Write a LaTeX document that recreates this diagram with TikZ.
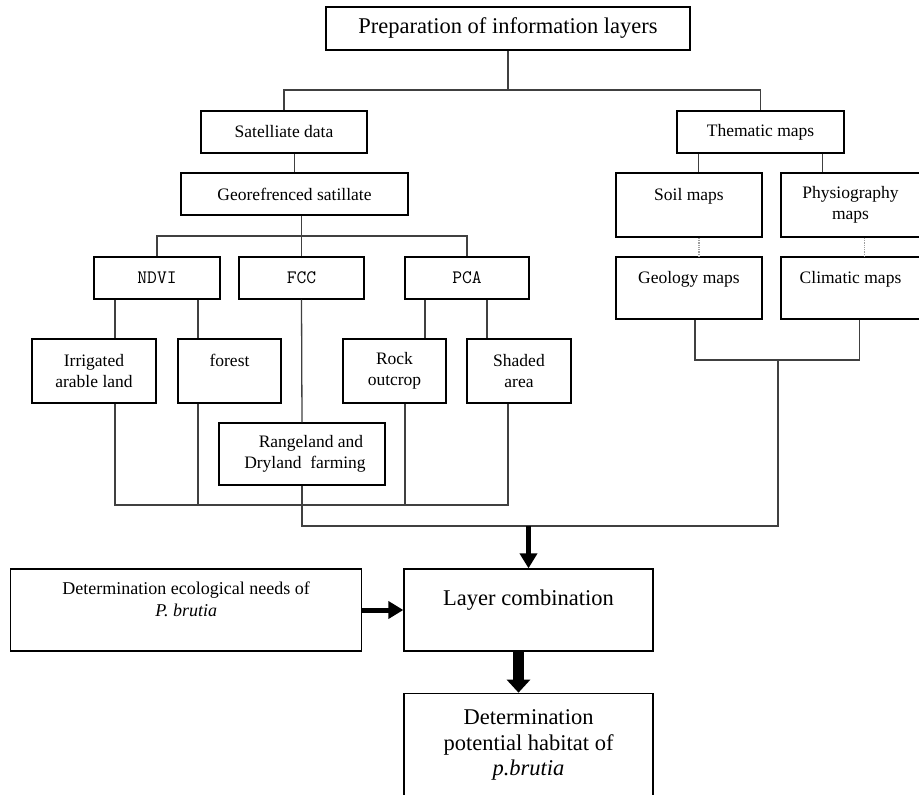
\documentclass[tikz,border=0pt]{standalone}
\usepackage{fontspec}
\setmainfont{Liberation Serif}
\usepackage{tikz}
\usetikzlibrary{arrows.meta, positioning, calc}
\definecolor{linkgray}{rgb}{0.25, 0.25, 0.25}
\definecolor{dotgray}{rgb}{0.62, 0.62, 0.62}
\tikzset{layerbox/.style={draw, line width=1.3pt, inner sep=0pt, align=center, font=\fontsize{17.5}{21}\selectfont}}
\tikzset{bigbox/.style={layerbox, font=\fontsize{22.5}{25.5}\selectfont}}
\tikzset{codebox/.style={layerbox, font=\ttfamily\fontsize{19}{21}\selectfont}}
\tikzset{link/.style={draw=linkgray, line width=1.3pt}}
\tikzset{dotlink/.style={draw=dotgray, line width=1.3pt, densely dotted}}
\tikzset{flowarrow/.style={-{Triangle[width=17pt, length=15pt]}, line width=5pt}}
\tikzset{bigflowarrow/.style={-{Triangle[width=23pt, length=13pt]}, line width=11pt}}

\begin{document}
\begin{tikzpicture}[x=1pt, y=-1pt]
    \useasboundingbox (0,0) rectangle (919,795);

    % information layers
    \node[bigbox, minimum width=364pt, minimum height=43pt] (prep) at (508,28.5) {Preparation of information layers};
    \node[layerbox, minimum width=166pt, minimum height=42pt] (sat) at (284,132) {Satelliate data};
    \node[layerbox, minimum width=167pt, minimum height=42pt] (thm) at (760.5,132) {Thematic maps};
    \node[layerbox, minimum width=227pt, minimum height=42pt] (geo) at (294.5,194) {Georefrenced satillate};

    \node[layerbox, minimum width=146pt, minimum height=64pt] (soil) at (689,205) {Soil maps\\ \mbox{}};
    \node[layerbox, minimum width=139pt, minimum height=64pt] (phys) at (850.5,205) {Physiography\\maps};
    \node[layerbox, minimum width=146pt, minimum height=62pt] (geol) at (689,288) {Geology maps\\ \mbox{}};
    \node[layerbox, minimum width=139pt, minimum height=62pt] (clim) at (850.5,288) {Climatic maps\\ \mbox{}};

    \node[codebox, minimum width=126pt, minimum height=42pt] (ndvi) at (157,278) {NDVI};
    \node[codebox, minimum width=125pt, minimum height=42pt] (fcc) at (301.5,278) {FCC};
    \node[codebox, minimum width=124pt, minimum height=42pt] (pca) at (467,278) {PCA};

    \node[layerbox, minimum width=124pt, minimum height=64pt] (irr) at (94,371) {Irrigated\\arable land};
    \node[layerbox, minimum width=103pt, minimum height=64pt] (forest) at (229.5,371) {forest\\ \mbox{}};
    \node[layerbox, minimum width=103pt, minimum height=64pt] (rock) at (394.5,371) {Rock\\outcrop};
    \node[layerbox, minimum width=104pt, minimum height=64pt] (shaded) at (519,371) {Shaded\\area};
    \node[layerbox, minimum width=166pt, minimum height=62pt] (range) at (302,454) {\hspace*{18pt}Rangeland and\\\hspace*{6pt}Dryland\ \ farming};

    % combination
    \node[bigbox, minimum width=249pt, minimum height=82pt] (comb) at (528.5,610) {Layer combination\\ \mbox{}};
    \node[layerbox, left = 41pt of comb, minimum width=351pt, minimum height=82pt, font=\fontsize{18}{22}\selectfont] (needs) {Determination ecological needs of\\\textit{P. brutia}\\ \mbox{}};
    \node[bigbox, below = 41pt of comb, minimum width=249pt, minimum height=104pt] (final) {Determination\\potential habitat of\\\textit{p.brutia}};

    \coordinate (topsplit) at (508,90);
    \coordinate (geosplit) at (301,236);
    \coordinate (leafbus) at (301,505);
    \coordinate (mapjoin) at (778,360);
    \coordinate (mergebus) at (comb.north |- 0,526);

    \draw[link] (prep.south) -- (topsplit);
    \draw[link] (sat.north) |- (topsplit) -| (thm.north);
    \draw[link] (geo.north) -- (geo.north |- sat.south);
    \draw[link] (geo.south -| fcc.north) -- (fcc.north);
    \draw[link] (ndvi.north) |- (geosplit) -| (pca.north);

    \draw[link] ([xshift=-42pt]ndvi.south) -- ([xshift=-42pt]ndvi.south |- irr.north);
    \draw[link] ([xshift=41pt]ndvi.south) -- ([xshift=41pt]ndvi.south |- forest.north);
    \draw[link] ([xshift=-42pt]pca.south) -- ([xshift=-42pt]pca.south |- rock.north);
    \draw[link] ([xshift=20pt]pca.south) -- ([xshift=20pt]pca.south |- shaded.north);
    \draw[link] (fcc.south) -- (range.north);

    \draw[link] ([xshift=21pt]irr.south) |- ([xshift=-11pt]shaded.south |- leafbus) -- ([xshift=-11pt]shaded.south);
    \draw[link] ([xshift=-31.5pt]forest.south) -- ([xshift=-31.5pt]forest.south |- leafbus);
    \draw[link] ([xshift=10.5pt]rock.south) -- ([xshift=10.5pt]rock.south |- leafbus);

    \draw[link] ([xshift=-62pt]thm.south) -- ([xshift=-62pt]thm.south |- soil.north);
    \draw[link] ([xshift=62pt]thm.south) -- ([xshift=62pt]thm.south |- phys.north);
    \draw[dotlink] ([xshift=10pt]soil.south) -- ([xshift=10pt]geol.north);
    \draw[dotlink] ([xshift=14pt]phys.south) -- ([xshift=14pt]clim.north);
    \draw[link] ([xshift=6pt]geol.south) |- (mapjoin) -| ([xshift=9pt]clim.south);

    \draw[link] (mapjoin) |- (mergebus) -| (range.south);
    \draw[flowarrow] (mergebus) -- (comb.north);
    \draw[flowarrow] (needs) -- (comb);
    \draw[bigflowarrow] ([xshift=-10pt]comb.south) -- ([xshift=-10pt]final.north);
\end{tikzpicture}
\end{document}
